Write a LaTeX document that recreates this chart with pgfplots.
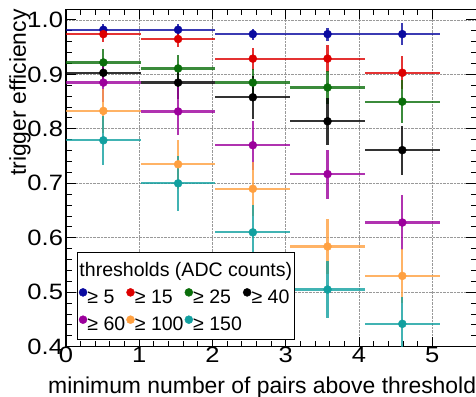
\documentclass[border=0pt]{standalone}
\usepackage{fontspec}
\setmainfont{Liberation Sans}
\newfontfamily\tickfont{Liberation Sans}[FakeStretch=1.15]
\usepackage{pgfplots}
\usepackage{pgfplotstable}
\pgfplotsset{compat=1.18}
\usetikzlibrary{calc}

\definecolor{cblue}{HTML}{0A0AA0}
\definecolor{cred}{HTML}{DD0000}
\definecolor{cgreen}{HTML}{0A6E0A}
\definecolor{cblack}{HTML}{000000}
\definecolor{cmag}{HTML}{9C009C}
\definecolor{corange}{HTML}{FFA040}
\definecolor{ccyan}{HTML}{12A0A0}

\pgfplotstableread{
x y ex ey
0.51 0.982 0.51 0.010
1.53 0.982 0.51 0.010
2.55 0.974 0.51 0.010
3.57 0.974 0.51 0.012
4.59 0.974 0.51 0.020
}\tblue
\pgfplotstableread{
x y ex ey
0.51 0.974 0.51 0.015
1.53 0.965 0.51 0.015
2.55 0.929 0.51 0.020
3.57 0.929 0.51 0.025
4.59 0.903 0.51 0.030
}\tred
\pgfplotstableread{
x y ex ey
0.51 0.922 0.51 0.025
1.53 0.911 0.51 0.025
2.55 0.885 0.51 0.025
3.57 0.876 0.51 0.030
4.59 0.850 0.51 0.040
}\tgreen
\pgfplotstableread{
x y ex ey
0.51 0.903 0.51 0.025
1.53 0.885 0.51 0.030
2.55 0.858 0.51 0.040
3.57 0.814 0.51 0.043
4.59 0.761 0.51 0.045
}\tblack
\pgfplotstableread{
x y ex ey
0.51 0.885 0.51 0.035
1.53 0.832 0.51 0.044
2.55 0.770 0.51 0.045
3.57 0.717 0.51 0.045
4.59 0.628 0.51 0.050
}\tmag
\pgfplotstableread{
x y ex ey
0.51 0.833 0.51 0.040
1.53 0.735 0.51 0.045
2.55 0.690 0.51 0.050
3.57 0.584 0.51 0.050
4.59 0.530 0.51 0.050
}\torange
\pgfplotstableread{
x y ex ey
0.51 0.779 0.51 0.045
1.53 0.700 0.51 0.050
2.55 0.610 0.51 0.050
3.57 0.505 0.51 0.052
4.59 0.442 0.51 0.050
}\tcyan

\pgfplotsset{
  ser/.style={only marks, mark=*, mark size=4bp, color=#1,
    error bars/.cd, x dir=both, x explicit, y dir=both, y explicit,
    error mark=none,
    error bar style={line width=2.2bp, opacity=0.8}},
}

\begin{document}
\begin{tikzpicture}
\begin{axis}[
  scale only axis, width=410.3bp, height=337.4bp,
  xmin=0, xmax=5.6, ymin=0.4, ymax=1.0196,
  xtick={0,1,2,3,4,5},
  ytick={0.4,0.5,0.6,0.7,0.8,0.9,1.0},
  minor x tick num=4, minor y tick num=4,
  tick align=inside, xtick pos=both, ytick pos=both,
  xticklabel pos=lower, yticklabel pos=left,
  major tick length=10bp, minor tick length=5.5bp,
  every tick/.style={black, line width=1bp},
  axis line style={line width=1.3bp},
  grid=major, major grid style={black!40, densely dotted, line width=0.9bp},
  /pgf/number format/assume math mode=true,
  ticklabel style={font=\tickfont\fontsize{22.3}{24}\selectfont},
  yticklabel style={anchor=east, inner sep=0pt, xshift=-2.8bp,
    /pgf/number format/fixed, /pgf/number format/fixed zerofill,
    /pgf/number format/precision=1},
  xticklabel style={anchor=north, inner sep=0pt, yshift=-0.5bp},
  xlabel={minimum number of pairs above threshold},
  ylabel={trigger efficiency},
  label style={font=\fontsize{23}{26}\selectfont, inner sep=0pt},
  xlabel style={at={(axis description cs:1,-0.1381)}, anchor=base east},
  ylabel style={at={(axis description cs:-0.0975,1)}, anchor=base east},
  legend columns=4,
  legend cell align=left,
  legend style={at={(axis cs:0.178,0.5092)}, anchor=north west,
    draw=none, fill=none, inner sep=0pt, outer sep=0pt,
    font=\fontsize{19.6}{21}\selectfont,
    nodes={inner xsep=0.4bp, inner ysep=1bp, text height=15bp, text depth=2bp},
    row sep=8.3bp,
    /tikz/every even column/.append style={column sep=0.8bp}},
  legend image code/.code={\draw[mark repeat=1,#1] plot coordinates {(3.6bp,0)};},
]
\coordinate (bl) at (rel axis cs:0,0);
\coordinate (tr) at (rel axis cs:1,1);
\addplot[ser=cblue] table[x=x,y=y,x error=ex,y error=ey]{\tblue};
\addlegendentry{≥ 5}
\addplot[ser=cred] table[x=x,y=y,x error=ex,y error=ey]{\tred};
\addlegendentry{≥ 15}
\addplot[ser=cgreen] table[x=x,y=y,x error=ex,y error=ey]{\tgreen};
\addlegendentry{≥ 25}
\addplot[ser=cblack] table[x=x,y=y,x error=ex,y error=ey]{\tblack};
\addlegendentry{≥ 40}
\addplot[ser=cmag] table[x=x,y=y,x error=ex,y error=ey]{\tmag};
\addlegendentry{≥ 60}
\addplot[ser=corange] table[x=x,y=y,x error=ex,y error=ey]{\torange};
\addlegendentry{≥ 100}
\addplot[ser=ccyan] table[x=x,y=y,x error=ex,y error=ey]{\tcyan};
\addlegendentry{≥ 150}
\draw[line width=1.3bp, fill=white] (axis cs:0.154,0.4136) rectangle (axis cs:3.122,0.5725);
\node[anchor=base west, inner sep=0pt, font=\fontsize{19.6}{21}\selectfont] at (axis cs:0.1815,0.5284) {thresholds (ADC counts)};
\end{axis}
\pgfresetboundingbox
\path[use as bounding box] ($(bl)+(-66bp,-49.3bp)$) rectangle ($(tr)+(-0.3bp,9.3bp)$);
\end{tikzpicture}
\end{document}
